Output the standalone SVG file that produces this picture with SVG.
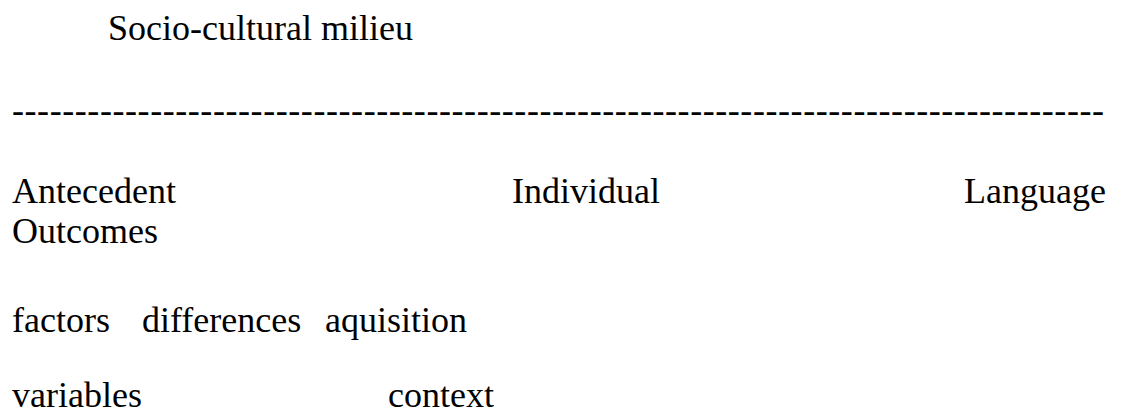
<svg xmlns="http://www.w3.org/2000/svg" width="1124" height="416" viewBox="0 0 1124 416">
  <style>
    text { font-family: "Liberation Serif", "Times New Roman", serif; font-size: 36px; fill: #000; }
  </style>
  <rect width="1124" height="416" fill="#fff"/>

  <!-- heading -->
  <g id="milieu">
    <text x="108" y="40">Socio-cultural milieu</text>
  </g>

  <!-- dashed separator typed as hyphens -->
  <g id="separator">
    <text x="12" y="122" textLength="1092" lengthAdjust="spacing">---------------------------------------------------------------------------------------</text>
  </g>

  <!-- column headings -->
  <g id="antecedent">
    <text x="12" y="203">Antecedent</text>
    <text x="12" y="332">factors</text>
    <text x="12" y="407">variables</text>
  </g>
  <g id="individual">
    <text x="512" y="203">Individual</text>
    <text x="142" y="332">differences</text>
  </g>
  <g id="language">
    <text x="964" y="203">Language</text>
    <text x="325" y="332">aquisition</text>
    <text x="388" y="407">context</text>
  </g>
  <g id="outcomes">
    <text x="12" y="243">Outcomes</text>
  </g>
</svg>
